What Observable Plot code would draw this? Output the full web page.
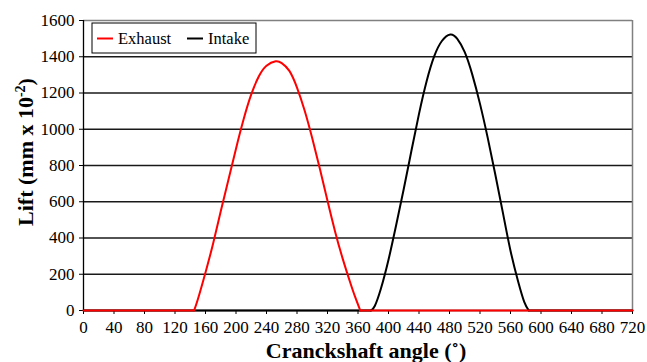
<!DOCTYPE html>
<html>
<head>
<meta charset="utf-8">
<script src="https://cdn.jsdelivr.net/npm/d3@7"></script>
<script src="https://cdn.jsdelivr.net/npm/@observablehq/plot@0.6"></script>
<style>
  html, body { margin: 0; padding: 0; background: #fff; }
  #chart svg text { font-family: 'Liberation Serif', 'Times New Roman', serif !important; }
  #chart svg text.tick-label { font-size: 17px !important; }
</style>
</head>
<body>
<div id="chart"></div>
<script>
// Exhaust valve lift (mm x 10^-2) vs crankshaft angle (deg)
const exhaustAngle = [0, 145, 150, 160, 170, 180, 190, 200, 210, 220, 230, 240, 252, 260, 270, 280, 290, 300, 310, 320, 330, 340, 350, 356, 363, 720];
const exhaustLift  = [0, 0, 62, 210, 370, 548, 720, 893, 1055, 1192, 1292, 1350, 1375, 1365, 1322, 1230, 1103, 950, 782, 605, 435, 285, 152, 78, 0, 0];

// Intake valve lift
const intakeAngle = [0, 377, 382, 390, 400, 410, 420, 430, 440, 450, 460, 470, 481, 490, 500, 510, 520, 530, 540, 550, 560, 570, 578, 584, 720];
const intakeLift  = [0, 0, 25, 120, 280, 470, 670, 880, 1085, 1265, 1403, 1487, 1523, 1500, 1425, 1300, 1140, 955, 752, 540, 330, 160, 48, 0, 0];

const xTicks = [0, 40, 80, 120, 160, 200, 240, 280, 320, 360, 400, 440, 480, 520, 560, 600, 640, 680, 720];
const yTicks = [0, 200, 400, 600, 800, 1000, 1200, 1400, 1600];
const gridLines = [200, 400, 600, 800, 1000, 1200, 1400];

const seriesNames = ["Exhaust", "Intake"];
const seriesColors = ["#ff0000", "#000000"];

// split a series into its lift "bump" (smooth curve) and flat zero parts
function split(angles, lifts) {
  const pts = angles.map((a, i) => ({angle: a, lift: lifts[i]}));
  let first = pts.findIndex(d => d.lift > 0) - 1;
  let last = pts.length - 1 - [...pts].reverse().findIndex(d => d.lift > 0) + 1;
  return {
    bump: pts.slice(first, last + 1),
    flat: [...pts.slice(0, first + 1).map(d => ({...d, seg: 0})), ...pts.slice(last).map(d => ({...d, seg: 1}))]
  };
}
const ex = split(exhaustAngle, exhaustLift);
const inn = split(intakeAngle, intakeLift);

const chart = Plot.plot({
  width: 647,
  height: 362,
  marginLeft: 83,
  marginRight: 15,
  marginTop: 20,
  marginBottom: 52,
  style: {background: "#fff", overflow: "visible"},
  x: {domain: [0, 720], ticks: xTicks, tickFormat: "d", tickSize: 4, tickPadding: 6, label: null},
  y: {domain: [0, 1600], ticks: yTicks, tickFormat: "d", tickSize: 4, tickPadding: 5, label: null},
  marks: [
    Plot.ruleY(gridLines, {stroke: "#000", strokeWidth: 1.3, strokeOpacity: 0.9}),
    Plot.ruleY([1600], {stroke: "#808080", strokeWidth: 1.5}),
    Plot.ruleX([720], {stroke: "#808080", strokeWidth: 1.5}),
    Plot.ruleX([0], {stroke: "#000", strokeWidth: 1.3}),
    Plot.ruleY([0], {stroke: "#000", strokeWidth: 1.3}),
    Plot.line(inn.flat, {x: "angle", y: "lift", z: "seg", stroke: seriesColors[1], strokeWidth: 2}),
    Plot.line(inn.bump, {x: "angle", y: "lift", stroke: seriesColors[1], strokeWidth: 2, curve: "natural"}),
    Plot.line(ex.flat, {x: "angle", y: "lift", z: "seg", stroke: seriesColors[0], strokeWidth: 2}),
    Plot.line(ex.bump, {x: "angle", y: "lift", stroke: seriesColors[0], strokeWidth: 2, curve: "natural"})
  ]
});

document.getElementById("chart").appendChild(chart);

const svg = d3.select(chart);
// mark the axis tick labels so the stylesheet can size them
svg.selectAll("text").classed("tick-label", true).attr("fill", "#000");

// X axis title
svg.append("text")
  .attr("x", 366)
  .attr("y", 358)
  .attr("text-anchor", "middle")
  .style("font-weight", "bold")
  .style("font-size", "22px")
  .attr("fill", "#000")
  .text("Cranckshaft angle (\u02DA)");

// Y axis title
const yt = svg.append("text")
  .attr("transform", "translate(33,152) rotate(-90)")
  .attr("text-anchor", "middle")
  .style("font-weight", "bold")
  .style("font-size", "22px")
  .attr("fill", "#000");
yt.append("tspan").text("Lift (mm x 10");
yt.append("tspan").style("font-size", "14px").attr("dy", -8).text("-2");
yt.append("tspan").attr("dy", 8).text(")");

// Legend
const lg = svg.append("g");
lg.append("rect")
  .attr("x", 92).attr("y", 23)
  .attr("width", 164).attr("height", 30)
  .attr("fill", "#fff").attr("stroke", "#000").attr("stroke-width", 1);
const legendItems = [
  {x0: 97, tx: 118},
  {x0: 187, tx: 208}
];
legendItems.forEach((it, i) => {
  lg.append("line")
    .attr("x1", it.x0).attr("x2", it.x0 + 16)
    .attr("y1", 38.5).attr("y2", 38.5)
    .attr("stroke", seriesColors[i]).attr("stroke-width", 2);
  lg.append("text")
    .attr("x", it.tx).attr("y", 44)
    .attr("text-anchor", "start")
    .style("font-size", "16.5px")
    .attr("fill", "#000")
    .text(seriesNames[i]);
});
</script>
</body>
</html>
